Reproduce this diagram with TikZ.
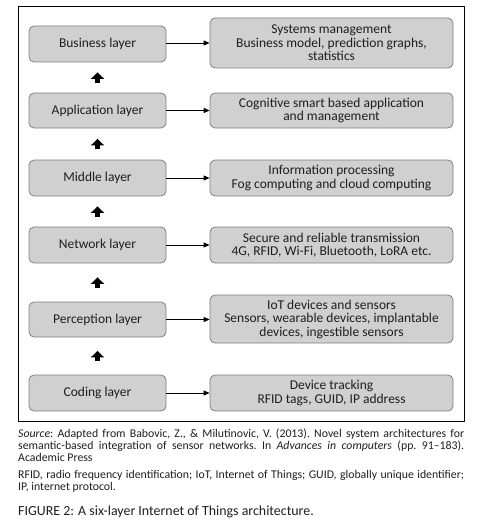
\documentclass[tikz,border=0pt]{standalone}
\usepackage{fontspec}
\setmainfont{Carlito}
\usetikzlibrary{arrows.meta}
\definecolor{boxfill}{RGB}{208,208,208}
\definecolor{boxline}{RGB}{128,128,128}
\definecolor{txt}{RGB}{30,30,30}
\begin{document}
\begin{tikzpicture}[x=1pt,y=-1pt,
  layerbox/.style={draw=boxline, fill=boxfill, rounded corners=5pt, line width=0.8pt,
    inner sep=0pt, align=center, text=txt, font=\fontsize{13.5}{13.5}\selectfont},
  leftbox/.style={layerbox, minimum width=137pt},
  rightbox/.style={layerbox, minimum width=243pt},
  sidearrow/.style={line width=0.8pt, -{Triangle[width=5pt,length=6pt]}},
  uparrow/.style={line width=5pt, -{Triangle[width=13pt,length=6.5pt]}}
]
\useasboundingbox (0,0) rectangle (477,532);
\node[draw=black, line width=0.8pt, minimum width=446pt, minimum height=415pt, inner sep=0pt, anchor=north west] (frame) at (18,6) {};

\node[leftbox, minimum height=36pt] (bus) at (97.5,44) {Business layer};
\node[leftbox, minimum height=35pt] (app) at (97.5,110.5) {Application layer};
\node[leftbox, minimum height=36pt] (mid) at (97.5,178) {Middle layer};
\node[leftbox, minimum height=36pt] (net) at (97.5,245) {Network layer};
\node[leftbox, minimum height=35pt] (per) at (97.5,319.5) {Perception layer};
\node[leftbox, minimum height=36pt] (cod) at (97.5,393) {Coding layer};

\node[rightbox, minimum height=50pt] (busr) at (331.5,43) {Systems management\\Business model, prediction graphs,\\statistics};
\node[rightbox, minimum height=35pt] (appr) at (331.5,110.5) {Cognitive smart based application\\and management};
\node[rightbox, minimum height=36pt] (midr) at (331.5,178) {Information processing\\Fog computing and cloud computing};
\node[rightbox, minimum height=36pt] (netr) at (331.5,245) {Secure and reliable transmission\\4G, RFID, Wi-Fi, Bluetooth, LoRA etc.};
\node[rightbox, minimum height=48pt] (perr) at (331.5,319) {IoT devices and sensors\\Sensors, wearable devices, implantable\\devices, ingestible sensors};
\node[rightbox, minimum height=36pt] (codr) at (331.5,393) {Device tracking\\RFID tags, GUID, IP address};

\draw[sidearrow] (bus.east |- busr.west) -- (busr.west);
\draw[sidearrow] (app.east) -- (appr.west);
\draw[sidearrow] (mid.east) -- (midr.west);
\draw[sidearrow] (net.east) -- (netr.west);
\draw[sidearrow] (per.east) -- (perr.west |- per.east);
\draw[sidearrow] (cod.east) -- (codr.west);

\draw[uparrow, shorten <=10pt, shorten >=10pt] (app.north) -- (bus.south);
\draw[uparrow, shorten <=10.5pt, shorten >=10.5pt] (mid.north) -- (app.south);
\draw[uparrow, shorten <=10pt, shorten >=10pt] (net.north) -- (mid.south);
\draw[uparrow, shorten <=14pt, shorten >=14pt] (per.north) -- (net.south);
\draw[uparrow, shorten <=13.5pt, shorten >=13.5pt] (cod.north) -- (per.south);

\node[anchor=north west, inner sep=0pt, text width=446pt, align=justify, text=txt,
  font=\fontsize{11.8}{12}\selectfont] (src) at (18,429)
  {\frenchspacing\hyphenpenalty=10000\exhyphenpenalty=10000
  \textit{Source}: Adapted from Babovic, Z., \& Milutinovic, V. (2013). Novel system architectures for semantic-based integration of sensor networks. In \textit{Advances in computers} (pp. 91--183). Academic Press\par\vspace{5pt}
  RFID, radio frequency identification; IoT, Internet of Things; GUID, globally unique identifier; IP,~internet protocol.};
\node[anchor=west, inner sep=0pt, text=txt, font=\fontsize{13.9}{14}\selectfont] (cap) at (18,512) {FIGURE 2: A six-layer Internet of Things architecture.};
\end{tikzpicture}
\end{document}
